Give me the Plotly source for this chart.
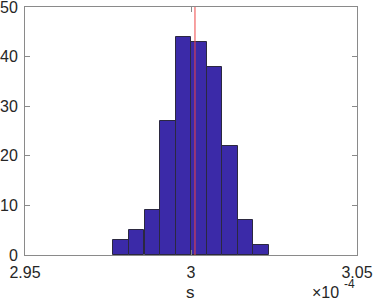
import plotly.graph_objects as go

# histogram of s (units of 1e-4)
bin_left = [2.9766, 2.9813, 2.9860, 2.9907, 2.9954, 3.0000, 3.0047, 3.0094, 3.0141, 3.0188]
bin_width = 0.00469
counts = [3, 5, 9, 27, 44, 43, 38, 22, 7, 2]
true_s = 3.0012
x_ticks = [2.95, 3.0, 3.05]
x_ticktext = ["2.95", "3", "3.05"]
y_ticks = [0, 10, 20, 30, 40, 50]

centers = [b + bin_width / 2 for b in bin_left]
FONT = "Liberation Sans, Arial"
TXT = "#262626"

fig = go.Figure()
fig.add_trace(go.Bar(
    x=centers, y=counts, width=[bin_width] * len(counts),
    marker=dict(color="#3b2aa8", line=dict(color="#2b2840", width=1)),
    showlegend=False, hoverinfo="skip",
))
fig.add_trace(go.Scatter(
    x=[true_s, true_s], y=[0, 50], mode="lines",
    line=dict(color="#ee4444", width=1), showlegend=False, hoverinfo="skip",
))

axis_common = dict(
    showline=True, linecolor="#8a8a8a", linewidth=1, mirror="ticks",
    ticks="inside", ticklen=5, tickcolor="#8a8a8a", showgrid=False,
    zeroline=False, automargin=False, ticklabeloverflow="allow",
    tickfont=dict(family=FONT, size=16, color=TXT),
)
fig.update_xaxes(range=[2.95, 3.05], tickvals=x_ticks, ticktext=x_ticktext,
                 ticklabelstandoff=3, **axis_common)
fig.update_yaxes(range=[0, 50], tickvals=y_ticks, ticklabelstandoff=3, **axis_common)

fig.add_annotation(
    text="s", xref="paper", yref="paper", x=(190 - 25) / 332, y=-(292 - 255) / 248,
    xanchor="center", yanchor="middle", showarrow=False,
    font=dict(family=FONT, size=17, color=TXT),
)
fig.add_annotation(
    text="×10", xref="paper", yref="paper", x=(341 - 25) / 332, y=-(292 - 255) / 248,
    xanchor="right", yanchor="middle", showarrow=False,
    font=dict(family=FONT, size=16, color=TXT),
)
fig.add_annotation(
    text="-4", xref="paper", yref="paper", x=(342 - 25) / 332, y=-(284 - 255) / 248,
    xanchor="left", yanchor="middle", showarrow=False,
    font=dict(family=FONT, size=12, color=TXT),
)

fig.update_layout(
    width=374, height=301,
    margin=dict(l=25, r=17, t=7, b=46),
    paper_bgcolor="white", plot_bgcolor="white",
    bargap=0,
)

fig.write_html("out.html", config={"displayModeBar": False},
               post_script="document.body.style.margin='0';document.body.style.overflow='hidden';")
